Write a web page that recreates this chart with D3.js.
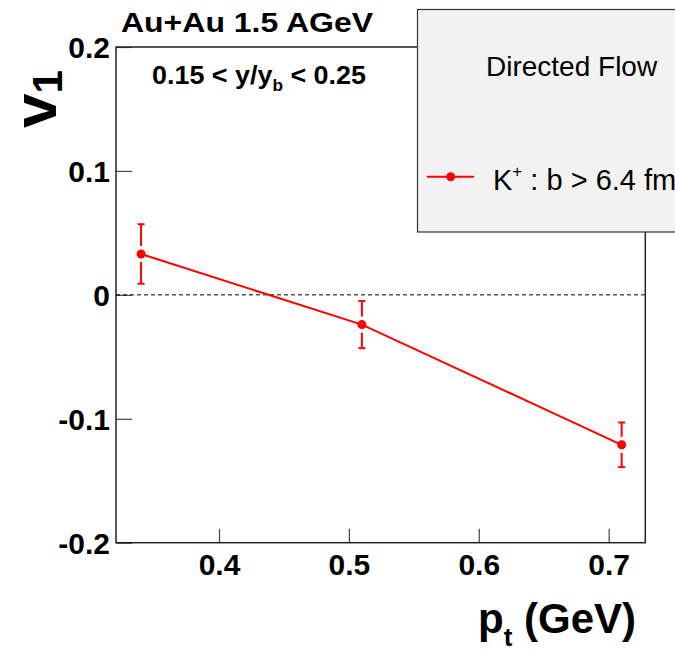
<!DOCTYPE html>
<html>
<head>
<meta charset="utf-8">
<script src="https://cdn.jsdelivr.net/npm/d3@7"></script>
<style>
  html, body { margin: 0; padding: 0; background: #fff; }
  svg { display: block; font-family: "Liberation Sans", Arial, Helvetica, sans-serif; }
</style>
</head>
<body>
<svg id="chart" width="675" height="653"></svg>
<script>
// K+ directed flow vs transverse momentum
const ptValues = [0.34, 0.51, 0.71];
const v1Values = [0.033, -0.024, -0.121];
const v1Errors = [0.024, 0.019, 0.018];
const xTickValues = [0.4, 0.5, 0.6, 0.7];
const yTickValues = [-0.2, -0.1, 0, 0.1, 0.2];
const seriesLabel = "K";

const svg = d3.select("#chart");
const frame = { left: 116, right: 645.3, top: 47, bottom: 542.7 };

const x = d3.scaleLinear().domain([0.3207, 0.7282]).range([frame.left, frame.right]);
const y = d3.scaleLinear().domain([-0.2, 0.2]).range([frame.bottom, frame.top]);

const fmt = d => d === 0 ? "0" : String(d);

// axes with ticks pointing inward
const xAxis = d3.axisBottom(x).tickValues(xTickValues).tickFormat(fmt).tickSize(-14).tickPadding(11);
const yAxis = d3.axisLeft(y).tickValues(yTickValues).tickFormat(fmt).tickSize(-16).tickPadding(6);

const gx = svg.append("g").attr("transform", `translate(0,${frame.bottom})`).call(xAxis);
const gy = svg.append("g").attr("transform", `translate(${frame.left},0)`).call(yAxis);
[gx, gy].forEach(g => {
  g.select(".domain").remove();
  g.selectAll(".tick line").attr("stroke", "#444").attr("stroke-width", 1.2);
  g.selectAll(".tick text").attr("fill", "#000").attr("font-size", 30).attr("font-weight", "bold");
});
gx.selectAll(".tick text").attr("dy", "0.71em");
gy.selectAll(".tick text").attr("dy", "0.36em");

// dashed zero line
svg.append("line")
  .attr("x1", frame.left).attr("x2", frame.right)
  .attr("y1", y(0)).attr("y2", y(0))
  .attr("stroke", "#000").attr("stroke-width", 1)
  .attr("stroke-dasharray", "4,3");

// frame
svg.append("rect")
  .attr("x", frame.left).attr("y", frame.top)
  .attr("width", frame.right - frame.left).attr("height", frame.bottom - frame.top)
  .attr("fill", "none").attr("stroke", "#222").attr("stroke-width", 1.5);

// data
const pts = ptValues.map((p, i) => ({ p, v: v1Values[i], e: v1Errors[i] }));
const red = "#ff0000";
const markerR = 4.5;

svg.append("path")
  .datum(pts)
  .attr("fill", "none").attr("stroke", red).attr("stroke-width", 2)
  .attr("d", d3.line().x(d => x(d.p)).y(d => y(d.v)));

const eb = svg.append("g").attr("stroke", red).attr("stroke-width", 2);
pts.forEach(d => {
  const cx = x(d.p), cy = y(d.v), yt = y(d.v + d.e), yb = y(d.v - d.e);
  const gap = 8;
  eb.append("line").attr("x1", cx).attr("x2", cx).attr("y1", yt).attr("y2", cy - gap);
  eb.append("line").attr("x1", cx).attr("x2", cx).attr("y1", cy + gap).attr("y2", yb);
  eb.append("line").attr("x1", cx - 3.5).attr("x2", cx + 3.5).attr("y1", yt).attr("y2", yt);
  eb.append("line").attr("x1", cx - 3.5).attr("x2", cx + 3.5).attr("y1", yb).attr("y2", yb);
});
svg.append("g").selectAll("circle").data(pts).join("circle")
  .attr("cx", d => x(d.p)).attr("cy", d => y(d.v)).attr("r", markerR).attr("fill", red);

// titles
svg.append("text").attr("x", 121).attr("y", 32)
  .attr("font-size", 27).attr("font-weight", "bold")
  .attr("textLength", 252).attr("lengthAdjust", "spacingAndGlyphs")
  .text("Au+Au 1.5 AGeV");

const rap = svg.append("text").attr("x", 152).attr("y", 84)
  .attr("font-size", 25).attr("font-weight", "bold")
  .attr("textLength", 214).attr("lengthAdjust", "spacingAndGlyphs");
rap.append("tspan").text("0.15 < y/y");
rap.append("tspan").attr("font-size", 16).attr("dy", 7).text("b");
rap.append("tspan").attr("dy", -7).text(" < 0.25");

const yt = svg.append("text")
  .attr("transform", "translate(56,128) rotate(-90)")
  .attr("font-size", 62).attr("font-weight", "bold");
yt.append("tspan").text("v");
yt.append("tspan").attr("font-size", 42).attr("dy", 6).text("1");

const xt = svg.append("text").attr("x", 636).attr("y", 633)
  .attr("text-anchor", "end").attr("font-size", 42).attr("font-weight", "bold");
xt.append("tspan").text("p");
xt.append("tspan").attr("font-size", 26).attr("dy", 13).text("t");
xt.append("tspan").attr("dy", -13).text(" (GeV)");

// legend
const lg = svg.append("g");
lg.append("rect").attr("x", 417.5).attr("y", 9.5).attr("width", 300).attr("height", 222.5)
  .attr("fill", "#f2f2f2").attr("stroke", "#333").attr("stroke-width", 1.2);
lg.append("text").attr("x", 486).attr("y", 76).attr("font-size", 28).text("Directed Flow");
lg.append("line").attr("x1", 427).attr("x2", 474).attr("y1", 176.7).attr("y2", 176.7)
  .attr("stroke", red).attr("stroke-width", 2);
lg.append("circle").attr("cx", 450.7).attr("cy", 176.7).attr("r", markerR).attr("fill", red);
const le = lg.append("text").attr("x", 493).attr("y", 190).attr("font-size", 29);
le.append("tspan").text(seriesLabel);
le.append("tspan").attr("font-size", 17).attr("dy", -13).text("+");
le.append("tspan").attr("dy", 13).text(" : b > 6.4 fm");
</script>
</body>
</html>
